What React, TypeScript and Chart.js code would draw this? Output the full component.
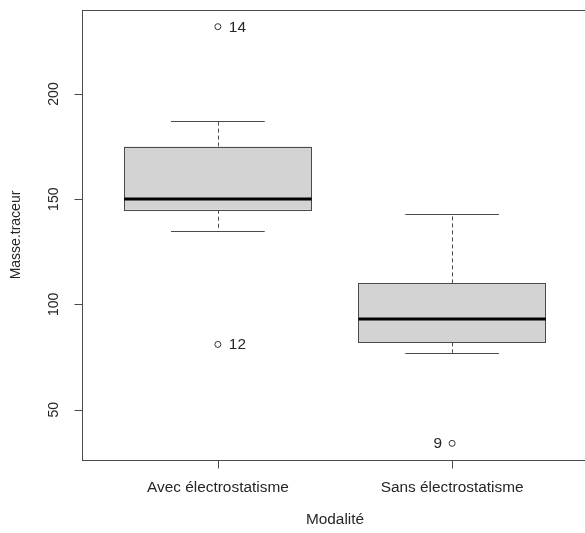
import React, { useEffect, useRef } from 'react';
import { Chart, registerables } from 'chart.js';

Chart.register(...registerables);

// ---- data ----
const categories = ['Avec électrostatisme', 'Sans électrostatisme'];
const whiskerLow = [135, 77];
const q1 = [145, 82];
const median = [150, 93];
const q3 = [175, 110];
const whiskerHigh = [187, 143];
const outlierCategory = [1, 1, 2];
const outlierValues = [232, 81, 34];
const outlierLabels = ['14', '12', '9'];
const yTicks = [50, 100, 150, 200];
const xAxisTitle = 'Modalité';
const yAxisTitle = 'Masse.traceur';

// ---- styles ----
const FONT = '14px "Liberation Sans", Arial, sans-serif';
const TEXT = '#262626';
const LINE = '#4a4a4a';
const FILL = '#d3d3d3';
const STRETCH = 1.1;

function text(ctx: CanvasRenderingContext2D, s: string, x: number, y: number, align: CanvasTextAlign, rotate = false) {
  ctx.save();
  ctx.translate(x, y);
  if (rotate) {
    ctx.rotate(-Math.PI / 2);
    ctx.scale(1, STRETCH);
  } else {
    ctx.scale(STRETCH, 1);
  }
  ctx.font = FONT;
  ctx.fillStyle = TEXT;
  ctx.textAlign = align;
  ctx.textBaseline = 'middle';
  ctx.fillText(s, 0, 0);
  ctx.restore();
}

const boxPlugin = {
  id: 'rbox',
  beforeDatasetsDraw(chart: any) {
    const { ctx, chartArea: a, scales } = chart;
    const xs = scales.x;
    const ys = scales.y;
    const r = (v: number) => Math.round(v) + 0.5;
    ctx.save();
    // boxes
    categories.forEach((_, i) => {
      const cx = xs.getPixelForValue(i + 1);
      const l = xs.getPixelForValue(i + 1 - 0.4);
      const rr = xs.getPixelForValue(i + 1 + 0.4);
      const cl = xs.getPixelForValue(i + 1 - 0.2);
      const cr = xs.getPixelForValue(i + 1 + 0.2);
      const yq1 = ys.getPixelForValue(q1[i]);
      const yq3 = ys.getPixelForValue(q3[i]);
      const ymed = ys.getPixelForValue(median[i]);
      const ylo = ys.getPixelForValue(whiskerLow[i]);
      const yhi = ys.getPixelForValue(whiskerHigh[i]);
      ctx.strokeStyle = LINE;
      ctx.lineWidth = 1;
      // whiskers dashed
      ctx.setLineDash([4, 3]);
      ctx.beginPath();
      ctx.moveTo(r(cx), yq3);
      ctx.lineTo(r(cx), yhi);
      ctx.moveTo(r(cx), yq1);
      ctx.lineTo(r(cx), ylo);
      ctx.stroke();
      ctx.setLineDash([]);
      // caps
      ctx.beginPath();
      ctx.moveTo(cl, r(yhi));
      ctx.lineTo(cr, r(yhi));
      ctx.moveTo(cl, r(ylo));
      ctx.lineTo(cr, r(ylo));
      ctx.stroke();
      // box
      ctx.fillStyle = FILL;
      ctx.fillRect(l, yq3, rr - l, yq1 - yq3);
      ctx.strokeRect(r(l), r(yq3), Math.round(rr - l), Math.round(yq1 - yq3));
      // median
      ctx.strokeStyle = '#000';
      ctx.lineWidth = 3;
      ctx.beginPath();
      ctx.moveTo(l, Math.round(ymed));
      ctx.lineTo(rr, Math.round(ymed));
      ctx.stroke();
    });
    // frame
    ctx.strokeStyle = LINE;
    ctx.lineWidth = 1;
    ctx.strokeRect(r(a.left), r(a.top), Math.round(a.right - a.left), Math.round(a.bottom - a.top));
    // y ticks
    ctx.beginPath();
    yTicks.forEach((t) => {
      const y = r(ys.getPixelForValue(t));
      ctx.moveTo(r(a.left) - 8, y);
      ctx.lineTo(r(a.left), y);
    });
    // x ticks
    categories.forEach((_, i) => {
      const x = r(xs.getPixelForValue(i + 1));
      ctx.moveTo(x, r(a.bottom));
      ctx.lineTo(x, r(a.bottom) + 8);
    });
    ctx.stroke();
    yTicks.forEach((t) => text(ctx, String(t), a.left - 28, ys.getPixelForValue(t), 'center', true));
    categories.forEach((c, i) => text(ctx, c, xs.getPixelForValue(i + 1), a.bottom + 28, 'center'));
    text(ctx, xAxisTitle, (a.left + a.right) / 2, a.bottom + 60, 'center');
    text(ctx, yAxisTitle, 16, (a.top + a.bottom) / 2, 'center', true);
    ctx.restore();
  },
  afterDatasetsDraw(chart: any) {
    const { ctx, scales } = chart;
    outlierValues.forEach((v, i) => {
      const px = scales.x.getPixelForValue(outlierCategory[i]);
      const py = scales.y.getPixelForValue(v) + 1;
      const leftSide = outlierCategory[i] === 2;
      if (leftSide) text(ctx, outlierLabels[i], px - 10, py, 'right');
      else text(ctx, outlierLabels[i], px + 11, py, 'left');
    });
  },
};

export default function App() {
  const ref = useRef<HTMLCanvasElement>(null);
  useEffect(() => {
    if (!ref.current) return;
    const lo = Math.min(...outlierValues, ...whiskerLow);
    const hi = Math.max(...outlierValues, ...whiskerHigh);
    const ext = (hi - lo) * 0.04;
    const chart = new Chart(ref.current, {
      type: 'scatter',
      data: {
        datasets: [
          {
            data: outlierValues.map((v, i) => ({ x: outlierCategory[i], y: v })),
            pointStyle: 'circle',
            pointRadius: 3,
            pointBorderWidth: 1,
            borderColor: '#333',
            backgroundColor: 'rgba(0,0,0,0)',
          },
        ],
      },
      options: {
        responsive: false,
        animation: false,
        devicePixelRatio: 1,
        layout: { padding: { left: 82, right: 12, top: 10, bottom: 73 } },
        plugins: { legend: { display: false }, tooltip: { enabled: false } },
        scales: {
          x: { type: 'linear', min: 0.42, max: 2.58, display: false },
          y: { type: 'linear', min: lo - ext, max: hi + ext, display: false },
        },
      },
      plugins: [boxPlugin],
    });
    return () => chart.destroy();
  }, []);
  return (
    <div style={{ position: 'fixed', left: 0, top: 0, width: 585, height: 533, overflow: 'hidden', background: '#fff' }}>
      <canvas ref={ref} width={600} height={533} style={{ display: 'block' }} />
    </div>
  );
}
